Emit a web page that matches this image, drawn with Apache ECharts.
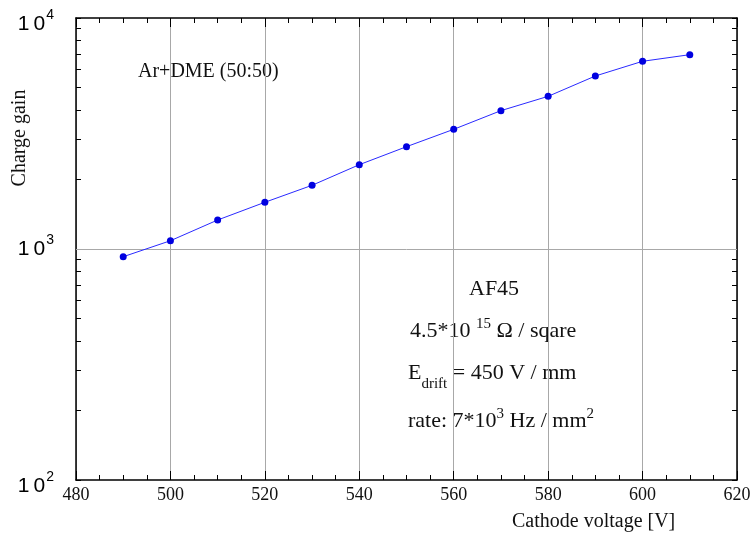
<!DOCTYPE html>
<html><head><meta charset="utf-8">
<script src="https://cdn.jsdelivr.net/npm/echarts@6/dist/echarts.min.js"></script>
<style>html,body{margin:0;padding:0;background:#fff}#c{width:752px;height:535px}</style>
</head><body><div id="c"></div>
<script>
const voltages = [490, 500, 510, 520, 530, 540, 550, 560, 570, 580, 590, 600, 610];
const gains = [926, 1086, 1335, 1593, 1887, 2317, 2773, 3297, 3971, 4581, 5610, 6495, 6938];
const xMin = 480, xMax = 620, xStep = 20;
const yLabelValues = [100, 1000, 10000];
const yTickValues = [100, 200, 300, 400, 500, 600, 700, 800, 900,
  1000, 2000, 3000, 4000, 5000, 6000, 7000, 8000, 9000, 10000];
const gridLines = [1000];
const xTitle = 'Cathode voltage [V]';
const yTitle = 'Charge gain';

const SERIF = "'Liberation Serif', 'DejaVu Serif', serif";
const SANS = "'Liberation Sans', Arial, sans-serif";
const chart = echarts.init(document.getElementById('c'), null, {renderer: 'canvas'});

function xAxisDef(pos) {
  return {
    type: 'value', position: pos, min: xMin, max: xMax, interval: xStep,
    axisLine: {show: true, lineStyle: {color: '#000', width: 1.5}},
    axisTick: {show: true, inside: true, length: 9, lineStyle: {color: '#000', width: 1}},
    minorTick: {show: true, splitNumber: 4, length: 5, lineStyle: {color: '#000', width: 1}},
    splitLine: {show: pos === 'bottom', lineStyle: {color: '#a8a8a8', width: 1}},
    axisLabel: {show: pos === 'bottom', fontFamily: SERIF, fontSize: 18, color: '#111', margin: 6,
      showMinLabel: true, showMaxLabel: true}
  };
}
function yLabel(v) {
  const e = Math.round(Math.log10(v));
  const edge = (v === 100 || v === 10000);
  return edge ? '{c|1}{d|0}{t|' + e + '}' : '{a|1}{b|0}{s|' + e + '}';
}
function yAxisDef(pos) {
  return {
    type: 'log', logBase: 10, position: pos, min: 100, max: 10000,
    axisLine: {show: true, lineStyle: {color: '#000', width: 1.5}},
    axisTick: {show: true, inside: true, length: 5, customValues: yTickValues,
      lineStyle: {color: '#000', width: 1}},
    splitLine: {show: false},
    axisLabel: {
      show: pos === 'left', customValues: yLabelValues, margin: 22,
      formatter: yLabel,
      rich: {
        a: {fontFamily: SANS, fontSize: 21, color: '#000', verticalAlign: 'middle', padding: [0, 4, 0, 0]},
        b: {fontFamily: SANS, fontSize: 21, color: '#000', verticalAlign: 'middle'},
        s: {fontFamily: SANS, fontSize: 14, color: '#000', verticalAlign: 'middle', padding: [0, 0, 18, 1]},
        c: {fontFamily: SANS, fontSize: 21, color: '#000', verticalAlign: 'middle', padding: [12, 4, 0, 0]},
        d: {fontFamily: SANS, fontSize: 21, color: '#000', verticalAlign: 'middle', padding: [12, 0, 0, 0]},
        t: {fontFamily: SANS, fontSize: 14, color: '#000', verticalAlign: 'middle', padding: [12, 0, 18, 1]}
      }
    }
  };
}

const richAnn = {
  sup: {fontFamily: SERIF, fontSize: 15, fill: '#111', verticalAlign: 'middle', padding: [0, 0, 13, 0]},
  sub: {fontFamily: SERIF, fontSize: 15, fill: '#111', verticalAlign: 'middle', padding: [22, 0, 0, 0]}
};
function txt(text, x, y, size, align, rotation) {
  return {
    type: 'text', x: x, y: y, silent: true, rotation: rotation || 0,
    style: {text: text, fontFamily: SERIF, fontSize: size, fill: '#111',
      align: align || 'left', verticalAlign: 'middle', rich: richAnn}
  };
}

chart.setOption({
  animation: false,
  backgroundColor: '#fff',
  grid: {left: 76, right: 15, top: 18, bottom: 55, containLabel: false, outerBoundsMode: 'none'},
  xAxis: [xAxisDef('bottom'), xAxisDef('top')],
  yAxis: [yAxisDef('left'), yAxisDef('right')],
  series: [{
    type: 'line', xAxisIndex: 0, yAxisIndex: 0,
    data: voltages.map((v, i) => [v, gains[i]]),
    symbol: 'circle', symbolSize: 7, showSymbol: true,
    lineStyle: {color: '#2a2aff', width: 1},
    itemStyle: {color: '#0000e0'},
    z: 3,
    markLine: {
      silent: true, z: 1, symbol: ['none', 'none'], label: {show: false},
      lineStyle: {color: '#a8a8a8', type: 'solid', width: 1},
      data: gridLines.map(g => ({yAxis: g}))
    }
  }],
  graphic: [
    txt(yTitle, 20, 138, 20, 'center', Math.PI / 2),
    txt(xTitle, 512, 522, 20),
    txt('Ar+DME (50:50)', 138, 72, 20),
    txt('AF45', 469, 289, 22),
    txt('4.5*10 {sup|15} Ω / sqare', 410, 331, 22),
    txt('E{sub|drift} = 450 V / mm', 408, 373, 22),
    txt('rate: 7*10{sup|3} Hz / mm{sup|2}', 408, 421, 22)
  ]
});
</script></body></html>
